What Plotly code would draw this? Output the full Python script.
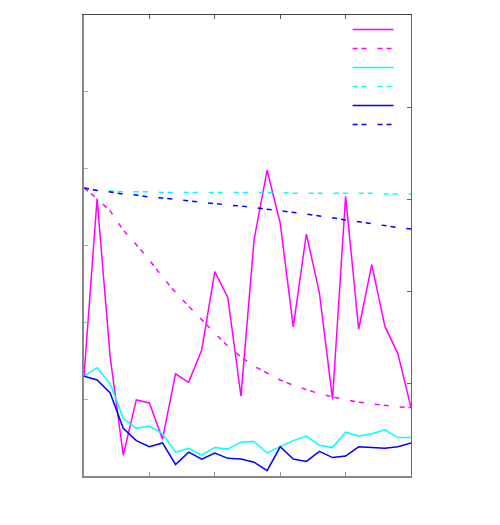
import plotly.graph_objects as go

# x positions (iteration index)
steps = list(range(26))

# series values (left-axis units)
magenta_raw = [1.30, 3.61, 1.55, 0.27, 0.99, 0.95, 0.48, 1.33, 1.22, 1.64,
               2.66, 2.32, 1.04, 3.07, 3.98, 3.29, 1.94, 3.15, 2.38, 1.00,
               3.64, 1.91, 2.75, 1.95, 1.59, 0.89]
magenta_fit = [3.75, 3.61, 3.45, 3.20, 3.01, 2.81, 2.59, 2.39, 2.21, 2.03,
               1.86, 1.69, 1.55, 1.43, 1.34, 1.25, 1.18, 1.12, 1.07, 1.03,
               1.00, 0.96, 0.94, 0.92, 0.90, 0.89]
cyan_raw = [1.30, 1.41, 1.20, 0.75, 0.62, 0.65, 0.55, 0.31, 0.36, 0.27,
            0.37, 0.35, 0.44, 0.45, 0.30, 0.38, 0.46, 0.52, 0.40, 0.37,
            0.57, 0.52, 0.55, 0.60, 0.50, 0.50]
cyan_fit = [3.75, 3.72, 3.71, 3.70, 3.70, 3.70, 3.69, 3.69, 3.69, 3.69,
            3.69, 3.69, 3.69, 3.69, 3.69, 3.69, 3.68, 3.68, 3.68, 3.68,
            3.68, 3.68, 3.68, 3.67, 3.67, 3.67]
blue_raw = [1.30, 1.25, 1.08, 0.62, 0.46, 0.38, 0.43, 0.15, 0.31, 0.22,
            0.30, 0.23, 0.22, 0.18, 0.07, 0.38, 0.22, 0.19, 0.32, 0.24,
            0.26, 0.38, 0.37, 0.36, 0.38, 0.43]
blue_fit = [3.748, 3.716, 3.696, 3.670, 3.657, 3.631, 3.618, 3.599, 3.586, 3.566,
            3.547, 3.527, 3.514, 3.495, 3.475, 3.456, 3.430, 3.410, 3.384, 3.358,
            3.339, 3.313, 3.287, 3.254, 3.234, 3.215]

x_ticks = [5, 10, 15, 20]
left_ticks = [1, 2, 3, 4, 5]
right_ticks = [1, 2, 3, 4]

DASH = "5px,4px,5px,11px"

series = [
    (magenta_raw, "magenta", "solid"),
    (magenta_fit, "magenta", DASH),
    (cyan_raw, "cyan", "solid"),
    (cyan_fit, "cyan", DASH),
    (blue_raw, "blue", "solid"),
    (blue_fit, "blue", DASH),
]

fig = go.Figure()
for values, color, dash in series:
    fig.add_trace(go.Scatter(
        x=steps, y=values, mode="lines", name=" ",
        line=dict(color=color, width=1.5, dash=dash),
    ))

# invisible trace so the top/right axes get drawn
fig.add_trace(go.Scatter(x=[0], y=[0], xaxis="x2", yaxis="y2", mode="lines",
                         line=dict(color="rgba(0,0,0,0)"), showlegend=False,
                         hoverinfo="skip"))

# page body adds an 8px offset, margins compensate for it
fig.update_layout(
    width=500, height=525,
    margin=dict(l=76, r=97, t=7, b=57),
    plot_bgcolor="white", paper_bgcolor="white",
    font=dict(family="DejaVu Sans", size=12, color="#333"),
    xaxis=dict(range=[0, 25], tickvals=x_ticks, showticklabels=False,
               ticks="inside", ticklen=4, tickcolor="#999", showgrid=False,
               zeroline=False, showline=True, linecolor="#888", linewidth=2),
    xaxis2=dict(range=[0, 25], tickvals=x_ticks, showticklabels=False,
                overlaying="x", side="top", ticks="inside", ticklen=4,
                tickcolor="#555", showgrid=False, zeroline=False,
                showline=True, linecolor="#444", linewidth=1),
    yaxis=dict(range=[0, 6], tickvals=left_ticks, showticklabels=False,
               ticks="inside", ticklen=4, tickcolor="#aaa", showgrid=False,
               zeroline=False, showline=True, linecolor="#888", linewidth=2),
    yaxis2=dict(range=[0, 5], tickvals=right_ticks, showticklabels=False,
                overlaying="y", side="right", ticks="inside", ticklen=4,
                tickcolor="#666", showgrid=False, zeroline=False,
                showline=True, linecolor="#666", linewidth=1),
    legend=dict(x=0.806, y=1.0, xanchor="left", yanchor="top",
                bgcolor="rgba(0,0,0,0)", itemwidth=41, tracegroupgap=0),
)

fig.write_html("out.html")
